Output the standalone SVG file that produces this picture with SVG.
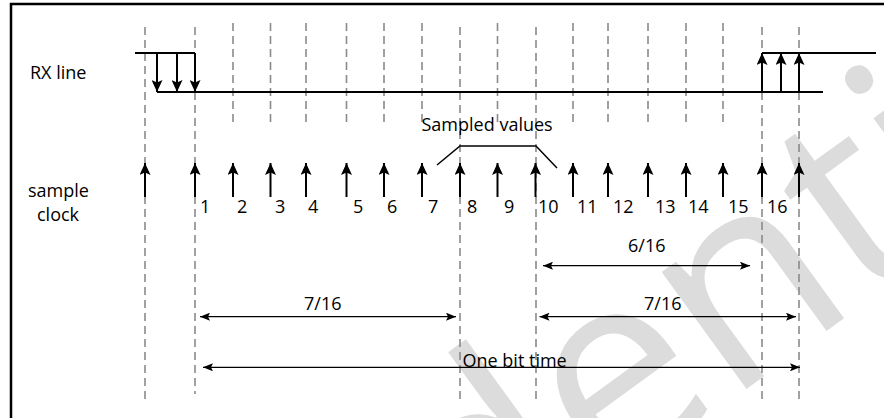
<svg xmlns="http://www.w3.org/2000/svg" width="884" height="418" viewBox="0 0 884 418">
<style>
text{font-family:"Open Sans","Liberation Sans",sans-serif;font-size:18px;fill:#000}
.wm{font-size:270px;fill:#dcdcdc}
.dash{stroke:#8a8a8a;stroke-width:1.6;stroke-dasharray:8 5;fill:none}
.sig{stroke:#000;stroke-width:2;fill:none}
.clk{stroke:#000;stroke-width:2;fill:none;marker-end:url(#ah)}
.dim{stroke:#000;stroke-width:1.2;fill:none;marker-start:url(#dh);marker-end:url(#dh)}
</style>
<defs>
<marker id="ah" viewBox="0 0 12 11" refX="12" refY="5.5" markerWidth="12" markerHeight="11" orient="auto" markerUnits="userSpaceOnUse"><path d="M0,0 L12,5.5 L0,11 L2.5,5.5 z" fill="#000"/></marker>
<marker id="dh" viewBox="0 0 10 8" refX="10" refY="4" markerWidth="10" markerHeight="8" orient="auto-start-reverse" markerUnits="userSpaceOnUse"><path d="M0,0 L10,4 L0,8 L2,4 z" fill="#000"/></marker>
</defs>
<rect x="0" y="0" width="884" height="418" fill="#fff"/>
<text class="wm" transform="translate(-60,975) rotate(-36)">Confidential</text>
<rect x="11" y="4" width="890" height="430" fill="none" stroke="#000" stroke-width="2.5"/>
<g id="labels">
<text x="30" y="79">RX line</text>
<text x="28" y="197">sample</text>
<text x="37" y="221">clock</text>
</g>
<g id="grid">
<path class="dash" d="M145,27V402 M195,27V394 M460,27V402 M536,27V402 M762,27V402 M799,27V402"/>
<path class="dash" d="M233,23V126 M270.5,23V126 M306,23V126 M346.5,23V126 M384,23V126 M422,23V126 M497.5,23V126 M573,23V126 M608,23V126 M648,23V126 M686,23V126 M723,23V126"/>
</g>
<g id="rx-line">
<path class="sig" d="M135,53H195 M157,92H823 M762,53H876"/>
<path class="clk" d="M157,53V92"/>
<path class="clk" d="M177,53V92"/>
<path class="clk" d="M195,53V92"/>
<path class="clk" d="M762,92V53"/>
<path class="clk" d="M781,92V53"/>
<path class="clk" d="M799,92V53"/>
</g>
<g id="sample-clock">
<path class="clk" d="M145,197V163"/>
<path class="clk" d="M195,197V163"/>
<path class="clk" d="M233,197V163"/>
<path class="clk" d="M270.5,197V163"/>
<path class="clk" d="M306,197V163"/>
<path class="clk" d="M346.5,197V163"/>
<path class="clk" d="M384,197V163"/>
<path class="clk" d="M422,197V163"/>
<path class="clk" d="M460,197V163"/>
<path class="clk" d="M497.5,197V163"/>
<path class="clk" d="M535.5,197V163"/>
<path class="clk" d="M573,197V163"/>
<path class="clk" d="M608,197V163"/>
<path class="clk" d="M648,197V163"/>
<path class="clk" d="M686,197V163"/>
<path class="clk" d="M723,197V163"/>
<path class="clk" d="M762,197V163"/>
<path class="clk" d="M799,197V163"/>
<text x="200" y="213">1</text><text x="237" y="213">2</text><text x="275" y="213">3</text><text x="308" y="213">4</text>
<text x="353" y="213">5</text><text x="387" y="213">6</text><text x="428" y="213">7</text><text x="467" y="213">8</text>
<text x="504" y="213">9</text><text x="538" y="213">10</text><text x="577" y="213">11</text><text x="613" y="213">12</text>
<text x="655" y="213">13</text><text x="688" y="213">14</text><text x="728" y="213">15</text><text x="767" y="213">16</text>
</g>
<g id="sampled-values">
<polyline points="437,165 460,146 536,146 557,168" fill="none" stroke="#000" stroke-width="1.5"/>
<text x="421.5" y="131">Sampled values</text>
</g>
<g id="connectors">
<path class="dim" d="M543,265.7H750"/>
<path class="dim" d="M200,316.7H456"/>
<path class="dim" d="M539.5,316.7H796"/>
<path class="dim" d="M203,367.3H800"/>
</g>
<g id="dim-labels">
<text x="628" y="252">6/16</text>
<text x="304" y="310">7/16</text>
<text x="644" y="310">7/16</text>
<text x="462.5" y="366.5">One bit time</text>
</g>
</svg>
